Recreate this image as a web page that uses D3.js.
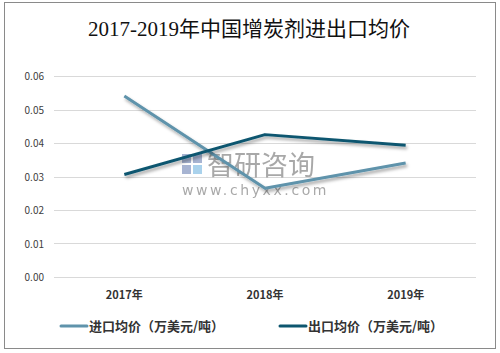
<!DOCTYPE html>
<html>
<head>
<meta charset="utf-8">
<script src="https://cdn.jsdelivr.net/npm/d3@7"></script>
<style>
  body { margin: 0; background: #fff; }
  svg { display: block; }
</style>
</head>
<body>
<div class="canvas"></div>
<script>
// data
const years = ['2017年', '2018年', '2019年'];
const importPrice = [0.054, 0.0265, 0.034];
const exportPrice = [0.0306, 0.0425, 0.0393];
const yTicks = [0, 0.01, 0.02, 0.03, 0.04, 0.05, 0.06];
const seriesNames = ['进口均价（万美元/吨）', '出口均价（万美元/吨）'];
const seriesColors = ['#5f93ab', '#0d566f'];

const dims = { width: 500, height: 353 };
const margin = { left: 54, right: 24, top: 76, bottom: 76 };
const cjk = '"Microsoft YaHei", "Noto Sans CJK SC", sans-serif';

const svg = d3.select('.canvas')
  .append('svg')
  .attr('width', dims.width)
  .attr('height', dims.height);

// frame
svg.append('rect')
  .attr('x', 4.5).attr('y', 2.5)
  .attr('width', 491).attr('height', 346)
  .attr('fill', '#fff')
  .attr('stroke', '#8a8a8a')
  .attr('stroke-width', 1);

svg.append('text')
  .attr('x', 249).attr('y', 36)
  .attr('text-anchor', 'middle')
  .attr('font-family', '"Liberation Serif", "Noto Sans CJK SC", serif')
  .attr('font-size', 21)
  .attr('fill', '#111')
  .text('2017-2019年中国增炭剂进出口均价');

const x = d3.scaleBand()
  .domain(years)
  .range([margin.left, dims.width - margin.right]);

const y = d3.scaleLinear()
  .domain([0, 0.06])
  .range([dims.height - margin.bottom, margin.top]);

// grid
svg.append('g')
  .selectAll('line')
  .data(yTicks)
  .join('line')
  .attr('x1', margin.left)
  .attr('x2', dims.width - margin.right)
  .attr('y1', d => Math.round(y(d)) + 0.5)
  .attr('y2', d => Math.round(y(d)) + 0.5)
  .attr('stroke', '#d9d9d9');

// y labels
svg.append('g')
  .selectAll('text')
  .data(yTicks)
  .join('text')
  .attr('x', 44)
  .attr('y', d => y(d) + 4)
  .attr('text-anchor', 'end')
  .attr('font-family', cjk)
  .attr('font-size', 10)
  .attr('fill', '#404040')
  .text(d => d.toFixed(2));

// x labels
svg.append('g')
  .selectAll('text')
  .data(years)
  .join('text')
  .attr('x', d => x(d) + x.bandwidth() / 2)
  .attr('y', 299)
  .attr('text-anchor', 'middle')
  .attr('font-family', cjk)
  .attr('font-size', 11)
  .attr('font-weight', 'bold')
  .attr('fill', '#333')
  .text(d => d);

// watermark
const wm = svg.append('g').attr('opacity', 0.75);
wm.append('rect').attr('x', 182).attr('y', 154).attr('width', 9).attr('height', 9).attr('fill', '#8a9cc4');
wm.append('rect').attr('x', 193).attr('y', 154).attr('width', 9).attr('height', 9).attr('fill', '#8a9cc4');
wm.append('rect').attr('x', 182).attr('y', 165).attr('width', 9).attr('height', 9).attr('fill', '#8a9cc4');
wm.append('rect').attr('x', 193).attr('y', 165).attr('width', 9).attr('height', 9).attr('fill', '#8ec3e6');
wm.append('text')
  .attr('x', 207).attr('y', 175)
  .attr('font-family', cjk)
  .attr('font-size', 27)
  .attr('fill', '#8c8c8c')
  .text('智研咨询');
wm.append('text')
  .attr('x', 182).attr('y', 195)
  .attr('font-family', '"DejaVu Sans", sans-serif')
  .attr('font-size', 14)
  .attr('letter-spacing', 2.6)
  .attr('fill', '#8c8c8c')
  .text('www.chyxx.com');

// shadow
const defs = svg.append('defs');
const f = defs.append('filter').attr('id', 'shadow')
  .attr('x', '-10%').attr('y', '-20%').attr('width', '130%').attr('height', '150%');
f.append('feDropShadow')
  .attr('dx', 1.5).attr('dy', 2.5)
  .attr('stdDeviation', 1.5)
  .attr('flood-color', '#000')
  .attr('flood-opacity', 0.35);

const line = d3.line()
  .x((d, i) => x(years[i]) + x.bandwidth() / 2)
  .y(d => y(d));

[importPrice, exportPrice].forEach((s, i) => {
  svg.append('path')
    .datum(s)
    .attr('d', line)
    .attr('fill', 'none')
    .attr('stroke', seriesColors[i])
    .attr('stroke-width', 3)
    .attr('stroke-linejoin', 'round')
    .attr('filter', 'url(#shadow)');
});

// legend
const legendX = [61, 280];
const legend = svg.append('g');
seriesNames.forEach((name, i) => {
  legend.append('line')
    .attr('x1', legendX[i]).attr('x2', legendX[i] + 26)
    .attr('y1', 326).attr('y2', 326)
    .attr('stroke', seriesColors[i])
    .attr('stroke-width', 3)
    .attr('stroke-linecap', 'round');
  legend.append('text')
    .attr('x', legendX[i] + 28)
    .attr('y', 330.5)
    .attr('font-family', cjk)
    .attr('font-size', 13)
    .attr('font-weight', 'bold')
    .attr('fill', '#333')
    .text(name);
});
</script>
</body>
</html>
